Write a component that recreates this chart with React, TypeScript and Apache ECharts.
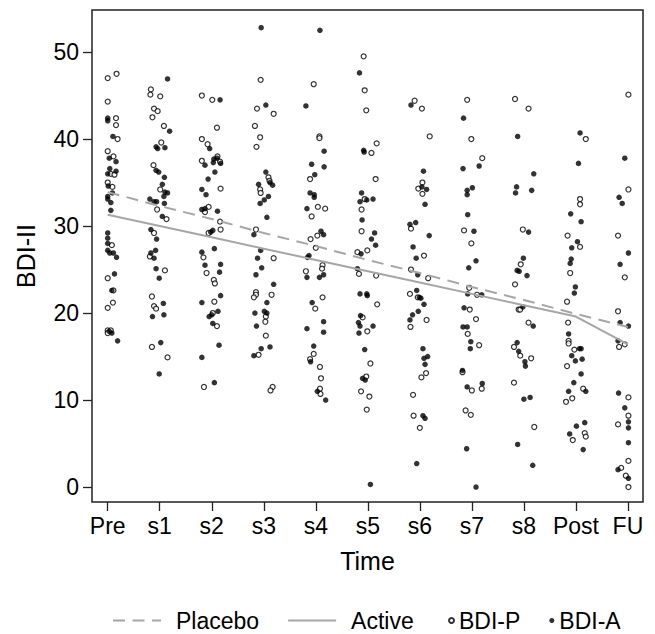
import React, { useEffect, useRef } from "react";
import * as echarts from "echarts";

// ---- categories / ticks ----
const categories = ["Pre", "s1", "s2", "s3", "s4", "s5", "s6", "s7", "s8", "Post", "FU"];
const yTicks = [0, 10, 20, 30, 40, 50];

// ---- fitted lines (value per time point) ----
const placeboLine = [33.9, 32.3, 30.8, 29.2, 27.7, 26.1, 24.6, 23.0, 21.5, 19.9, 18.4];
const activeLine = [31.3, 30.0, 28.7, 27.4, 26.1, 24.8, 23.5, 22.2, 20.9, 19.6, 16.4];

// ---- BDI-P observations: [jitter offset, score] ----
const bdiP_Pre = [[0, 47.0], [0.17, 47.5], [0, 44.3], [0.16, 42.4], [0.16, 41.6], [0.19, 40.0], [0, 38.6], [0.11, 38.0], [0.06, 36.0], [0.13, 35.9], [0, 35.0], [0.09, 34.5], [0.08, 27.8], [0, 24.0], [0.11, 22.6], [0.10, 21.2], [0, 20.6], [0, 18.0], [0.06, 18.0], [0, 17.7]];
const bdiP_s1 = [[-0.17, 45.7], [-0.18, 45.1], [0.01, 44.9], [-0.11, 43.5], [-0.04, 43.2], [-0.14, 42.5], [0.08, 41.5], [0.03, 39.6], [-0.12, 37.0], [0.01, 34.2], [-0.05, 31.9], [0.13, 30.8], [-0.11, 29.2], [-0.19, 26.5], [0.10, 24.9], [-0.15, 21.9], [-0.11, 20.8], [-0.07, 20.5], [-0.15, 16.1], [0.15, 14.9]];
const bdiP_s2 = [[-0.19, 45.0], [0.01, 44.5], [0.10, 41.3], [-0.19, 40.0], [-0.08, 39.4], [0.11, 38.0], [0.16, 37.4], [-0.19, 37.5], [0.17, 34.3], [-0.06, 32.2], [-0.13, 31.6], [0.16, 30.5], [-0.06, 29.2], [0.17, 29.6], [-0.16, 26.4], [-0.10, 24.6], [0.04, 23.8], [0.06, 23.4], [0.05, 21.3], [0.02, 20.0], [0.10, 18.5], [-0.15, 11.5]];
const bdiP_s3 = [[-0.06, 46.8], [-0.13, 43.5], [0.19, 42.9], [-0.17, 41.5], [-0.07, 40.2], [-0.14, 39.1], [0.09, 35.6], [0.11, 35.2], [-0.07, 34.2], [-0.06, 33.8], [-0.15, 29.6], [0.19, 26.3], [-0.15, 22.4], [-0.15, 22.1], [-0.19, 21.8], [0.15, 22.1], [0.04, 19.6], [0.03, 19.0], [0.04, 17.4], [-0.10, 15.2], [0.17, 11.5], [0.13, 11.1]];
const bdiP_s4 = [[-0.04, 46.3], [0.07, 40.3], [0.07, 40.1], [-0.11, 35.4], [0.04, 32.2], [0.18, 32.0], [-0.08, 31.1], [0.03, 28.9], [-0.10, 28.5], [0, 27.5], [0.13, 25.5], [0.12, 25.1], [-0.19, 24.8], [0.13, 21.8], [-0.01, 20.5], [-0.04, 15.3], [-0.11, 14.7], [0.08, 13.8], [0.10, 12.5], [0.08, 11.3], [0.09, 10.7]];
const bdiP_s5 = [[-0.08, 49.5], [-0.06, 45.6], [-0.03, 43.3], [0.17, 39.5], [0.07, 38.4], [0.15, 35.4], [-0.06, 33.1], [-0.12, 31.9], [-0.12, 29.4], [-0.2, 27.0], [-0.01, 27.2], [-0.17, 24.5], [0.16, 24.3], [0.18, 21.0], [-0.10, 19.5], [-0.01, 17.9], [0.05, 14.2], [-0.03, 12.7], [-0.13, 11.0], [0.03, 10.4], [-0.02, 8.9]];
const bdiP_s6 = [[-0.10, 44.4], [0.04, 43.5], [0.19, 40.3], [0.05, 35.0], [-0.03, 34.3], [0.05, 33.7], [-0.17, 29.7], [0.08, 26.6], [-0.17, 25.0], [0.16, 24.0], [-0.19, 22.2], [-0.04, 21.8], [0.13, 19.2], [-0.18, 18.4], [0.12, 13.1], [0.03, 12.6], [-0.13, 10.6], [-0.12, 8.2], [0, 6.8]];
const bdiP_s7 = [[-0.09, 44.5], [-0.01, 40.0], [0.2, 37.8], [-0.15, 29.5], [-0.01, 28.0], [-0.05, 22.9], [0.10, 22.1], [-0.04, 20.4], [0.08, 19.3], [-0.08, 17.6], [0.14, 16.3], [-0.18, 13.2], [0, 11.1], [0.19, 11.3], [-0.12, 8.8], [-0.02, 8.3]];
const bdiP_s8 = [[-0.17, 44.6], [0.09, 43.5], [-0.02, 29.6], [-0.06, 25.6], [-0.17, 23.3], [-0.10, 20.4], [-0.07, 20.4], [0.09, 18.9], [-0.19, 16.1], [-0.07, 15.1], [0.14, 14.8], [-0.19, 12.0], [0.2, 6.9]];
const bdiP_Post = [[0.19, 40.0], [0.08, 33.1], [0.08, 32.5], [-0.16, 28.9], [0.08, 27.6], [-0.11, 24.6], [-0.17, 21.3], [-0.15, 18.9], [-0.14, 16.8], [-0.14, 16.5], [-0.03, 15.8], [-0.17, 13.9], [0.14, 11.3], [-0.19, 9.8], [-0.07, 10.2], [0.17, 6.2], [0.19, 5.8], [-0.06, 5.4]];
const bdiP_FU = [[0.01, 45.1], [0.01, 34.2], [-0.19, 28.9], [-0.06, 24.1], [-0.19, 20.2], [-0.17, 16.1], [-0.06, 16.4], [0.01, 10.3], [0.01, 8.2], [-0.19, 7.2], [0.01, 3.0], [-0.13, 2.2], [-0.04, 1.3], [0.01, 0.0]];

// ---- BDI-A observations: [jitter offset, score] ----
const bdiA_Pre = [[0, 42.4], [0, 42.1], [0.10, 40.3], [0.03, 37.8], [0.16, 37.4], [0.04, 36.6], [0, 36.0], [0.16, 36.3], [0.01, 34.6], [0.09, 33.8], [0, 33.4], [0, 33.1], [0.06, 32.7], [0.06, 31.8], [0, 29.2], [0, 28.6], [0, 28.0], [0, 27.2], [0.04, 26.9], [0.11, 26.9], [0.17, 26.4], [0.13, 24.5], [0.08, 22.6], [0.03, 17.9], [0.08, 17.7], [0.19, 16.8]];
const bdiA_s1 = [[0.15, 46.9], [0.19, 40.9], [-0.07, 39.1], [-0.04, 38.9], [0.10, 39.0], [-0.07, 36.4], [-0.02, 36.2], [0.09, 35.6], [0.05, 34.8], [0.10, 33.9], [0.15, 33.8], [0.08, 33.4], [-0.19, 33.1], [-0.11, 32.8], [-0.06, 32.8], [0.09, 32.6], [0.05, 31.1], [-0.17, 29.6], [-0.06, 28.5], [-0.08, 27.2], [-0.17, 26.9], [-0.11, 26.3], [-0.07, 25.1], [-0.01, 24.0], [0.07, 21.1], [-0.14, 19.6], [0.08, 19.8], [0.02, 16.6], [-0.01, 13.0]];
const bdiA_s2 = [[0.16, 44.5], [-0.04, 38.9], [0.10, 37.8], [0.04, 37.7], [0.03, 37.3], [0.17, 37.2], [-0.13, 37.0], [0.06, 36.2], [-0.07, 35.4], [-0.19, 34.2], [-0.11, 33.6], [-0.13, 32.0], [-0.19, 31.9], [0.11, 31.7], [0.02, 29.5], [-0.02, 29.3], [0.05, 27.4], [-0.19, 27.0], [-0.13, 25.5], [0.17, 25.6], [0.15, 24.7], [0.17, 22.0], [-0.19, 21.2], [0.12, 20.2], [0, 19.8], [-0.05, 19.6], [0.02, 18.8], [0.14, 16.3], [-0.19, 14.9], [0.05, 12.0]];
const bdiA_s3 = [[-0.05, 52.8], [0.04, 43.9], [0.04, 36.2], [0.12, 35.0], [0.17, 34.7], [-0.10, 34.8], [0.09, 33.4], [0.01, 33.0], [-0.07, 32.6], [0.06, 31.0], [-0.19, 29.0], [-0.06, 27.2], [-0.12, 26.3], [-0.04, 25.2], [-0.15, 24.4], [0.19, 23.3], [0.06, 21.2], [-0.17, 20.0], [0.01, 20.2], [0.06, 20.0], [-0.14, 18.5], [0.12, 16.1], [-0.05, 15.9], [-0.19, 15.1]];
const bdiA_s4 = [[0.08, 52.5], [-0.19, 43.8], [0.16, 38.6], [-0.08, 37.1], [0.16, 36.8], [-0.02, 35.9], [-0.11, 33.8], [-0.03, 33.6], [-0.03, 33.3], [-0.17, 32.0], [0.10, 29.4], [0.15, 29.0], [-0.16, 26.4], [-0.13, 26.6], [-0.17, 24.1], [0.07, 24.1], [0.15, 24.4], [-0.07, 21.2], [0.15, 19.0], [-0.17, 18.2], [0.15, 17.8], [-0.04, 16.2], [-0.10, 14.4], [0.03, 11.0], [0.19, 10.0]];
const bdiA_s5 = [[-0.16, 47.6], [-0.08, 38.7], [-0.07, 38.5], [-0.12, 33.8], [-0.02, 33.0], [0.10, 33.1], [-0.15, 32.8], [-0.11, 30.7], [0.13, 29.2], [0.07, 28.5], [0.15, 27.8], [-0.13, 26.8], [-0.2, 25.1], [-0.15, 22.2], [-0.02, 22.2], [-0.01, 22.0], [-0.14, 19.7], [-0.18, 18.9], [-0.15, 18.5], [0.10, 18.5], [-0.17, 17.7], [-0.06, 15.8], [-0.10, 12.5], [-0.05, 12.3], [0.05, 0.3]];
const bdiA_s6 = [[-0.17, 43.9], [0.07, 36.3], [0.04, 34.5], [0.13, 34.2], [0.10, 32.5], [-0.19, 30.2], [-0.08, 30.4], [0.18, 28.9], [-0.13, 27.6], [-0.07, 26.3], [-0.04, 24.4], [-0.06, 22.6], [-0.01, 21.8], [0.02, 21.7], [0.08, 21.0], [-0.03, 20.2], [-0.14, 19.8], [-0.19, 19.2], [0.06, 15.9], [0.08, 14.8], [0.15, 15.0], [0.10, 14.1], [0.06, 8.2], [0.10, 7.9], [-0.06, 2.7]];
const bdiA_s7 = [[-0.16, 42.4], [0.14, 36.9], [-0.17, 36.6], [-0.09, 34.1], [0.01, 34.4], [-0.09, 33.6], [-0.08, 31.3], [0.04, 29.4], [0.08, 26.0], [-0.06, 25.2], [-0.08, 22.2], [0.19, 22.1], [-0.15, 20.6], [-0.17, 18.4], [-0.09, 18.4], [-0.02, 16.7], [-0.03, 15.9], [-0.18, 13.4], [-0.09, 11.5], [0.2, 11.9], [-0.10, 4.4], [0.08, 0.0]];
const bdiA_s8 = [[-0.12, 40.3], [0.19, 36.0], [-0.14, 34.5], [-0.16, 33.8], [0.15, 34.1], [0.09, 29.3], [-0.01, 26.3], [-0.13, 24.9], [-0.09, 24.8], [0.06, 24.3], [-0.02, 20.7], [0.18, 18.5], [-0.13, 16.6], [-0.10, 15.6], [0.02, 14.4], [0.03, 13.9], [0, 10.1], [0.12, 10.3], [-0.12, 4.9], [0.17, 2.5]];
const bdiA_Post = [[0.08, 40.7], [0.05, 37.2], [-0.10, 31.4], [0.10, 30.5], [0.03, 28.2], [-0.08, 27.5], [-0.09, 26.2], [-0.11, 25.7], [-0.01, 23.0], [-0.03, 22.3], [-0.14, 17.6], [0.07, 15.9], [0.10, 15.9], [-0.08, 15.1], [-0.01, 14.5], [0.12, 14.7], [0.10, 13.0], [-0.04, 12.0], [-0.14, 11.0], [0.19, 11.0], [0.01, 7.0], [0.17, 7.4], [-0.12, 6.1], [0.14, 4.3]];
const bdiA_FU = [[-0.06, 37.8], [-0.17, 33.3], [-0.11, 32.6], [0.01, 26.9], [-0.15, 25.6], [-0.15, 18.9], [0.01, 18.5], [-0.19, 16.8], [-0.18, 10.8], [-0.06, 9.1], [0.01, 7.5], [0.01, 6.8], [0.01, 5.1], [-0.19, 2.0], [0.01, 1.0]];

const bdiPByTime = [bdiP_Pre, bdiP_s1, bdiP_s2, bdiP_s3, bdiP_s4, bdiP_s5, bdiP_s6, bdiP_s7, bdiP_s8, bdiP_Post, bdiP_FU];
const bdiAByTime = [bdiA_Pre, bdiA_s1, bdiA_s2, bdiA_s3, bdiA_s4, bdiA_s5, bdiA_s6, bdiA_s7, bdiA_s8, bdiA_Post, bdiA_FU];

const toPoints = (groups: number[][][]) =>
  groups.flatMap((arr, i) => arr.map(([off, v]) => [i + 1 + off, v]));

const FONT = "'Liberation Sans', Arial, Helvetica, sans-serif";
const LINE_GRAY = "#a6a6a6";
const HIDDEN_SYMBOL = { color: "rgba(0,0,0,0)", borderColor: "rgba(0,0,0,0)", borderWidth: 0, opacity: 0 };

export default function App() {
  const ref = useRef<HTMLDivElement>(null);

  useEffect(() => {
    if (!ref.current) return;
    const chart = echarts.init(ref.current, undefined, { renderer: "svg" });
    const xTickValues = categories.map((_, i) => i + 1);

    chart.setOption({
      animation: false,
      backgroundColor: "#ffffff",
      textStyle: { fontFamily: FONT },
      grid: {
        left: 92,
        right: 12,
        top: 10,
        bottom: 132,
        show: true,
        borderColor: "#222",
        borderWidth: 1.5,
        backgroundColor: "transparent",
      },
      legend: [
        {
          data: [
            { name: "Placebo", itemStyle: HIDDEN_SYMBOL },
            { name: "Active", itemStyle: HIDDEN_SYMBOL },
          ],
          left: 112,
          top: 609,
          itemWidth: 48,
          itemHeight: 14,
          itemGap: 28,
          padding: 0,
          textStyle: { fontSize: 23, color: "#000", fontFamily: FONT, padding: [0, 0, 0, 10] },
        },
        {
          data: [
            { name: "BDI-P", icon: "circle" },
            { name: "BDI-A", icon: "circle" },
          ],
          left: 448,
          top: 609,
          itemWidth: 5,
          itemHeight: 5,
          itemGap: 29,
          padding: 0,
          textStyle: { fontSize: 23, color: "#000", fontFamily: FONT },
        },
      ],
      xAxis: {
        type: "value",
        min: 0.698,
        max: 11.29,
        name: "Time",
        nameLocation: "middle",
        nameGap: 46,
        nameTextStyle: { fontSize: 25, color: "#000", fontFamily: FONT },
        axisLine: { show: false, onZero: false },
        splitLine: { show: false },
        axisTick: {
          show: true,
          inside: false,
          customValues: xTickValues,
          length: 9,
          lineStyle: { color: "#222", width: 1.3 },
        },
        axisLabel: {
          customValues: xTickValues,
          formatter: (v: number) => categories[Math.round(v) - 1] ?? "",
          fontSize: 23,
          color: "#000",
          margin: 12,
          fontFamily: FONT,
        },
      },
      yAxis: {
        type: "value",
        min: -1.72,
        max: 54.83,
        name: "BDI-II",
        nameLocation: "middle",
        nameRotate: 90,
        nameGap: 54,
        nameTextStyle: { fontSize: 25, color: "#000", fontFamily: FONT },
        axisLine: { show: false, onZero: false },
        splitLine: { show: false },
        axisTick: {
          show: true,
          inside: false,
          customValues: yTicks,
          length: 9,
          lineStyle: { color: "#222", width: 1.3 },
        },
        axisLabel: {
          customValues: yTicks,
          fontSize: 23,
          color: "#000",
          margin: 13,
          fontFamily: FONT,
        },
      },
      series: [
        {
          name: "BDI-P",
          type: "scatter",
          data: toPoints(bdiPByTime),
          symbol: "circle",
          symbolSize: 5,
          itemStyle: { color: "#ffffff", borderColor: "#000", borderWidth: 1.2 },
          z: 3,
        },
        {
          name: "BDI-A",
          type: "scatter",
          data: toPoints(bdiAByTime),
          symbol: "circle",
          symbolSize: 5.5,
          itemStyle: { color: "#000", borderColor: "#000", borderWidth: 0 },
          z: 3,
        },
        {
          name: "Placebo",
          type: "line",
          data: placeboLine.map((v, i) => [i + 1, v]),
          symbol: "none",
          showSymbol: false,
          lineStyle: { color: LINE_GRAY, width: 2, type: [12, 7.5] },
          itemStyle: { color: LINE_GRAY },
          z: 4,
        },
        {
          name: "Active",
          type: "line",
          data: activeLine.map((v, i) => [i + 1, v]),
          symbol: "none",
          showSymbol: false,
          lineStyle: { color: LINE_GRAY, width: 2 },
          itemStyle: { color: LINE_GRAY },
          z: 4,
        },
      ],
    });

    return () => chart.dispose();
  }, []);

  return (
    <div
      ref={ref}
      style={{ position: "absolute", left: 0, top: 0, width: 655, height: 634, background: "#fff" }}
    />
  );
}
